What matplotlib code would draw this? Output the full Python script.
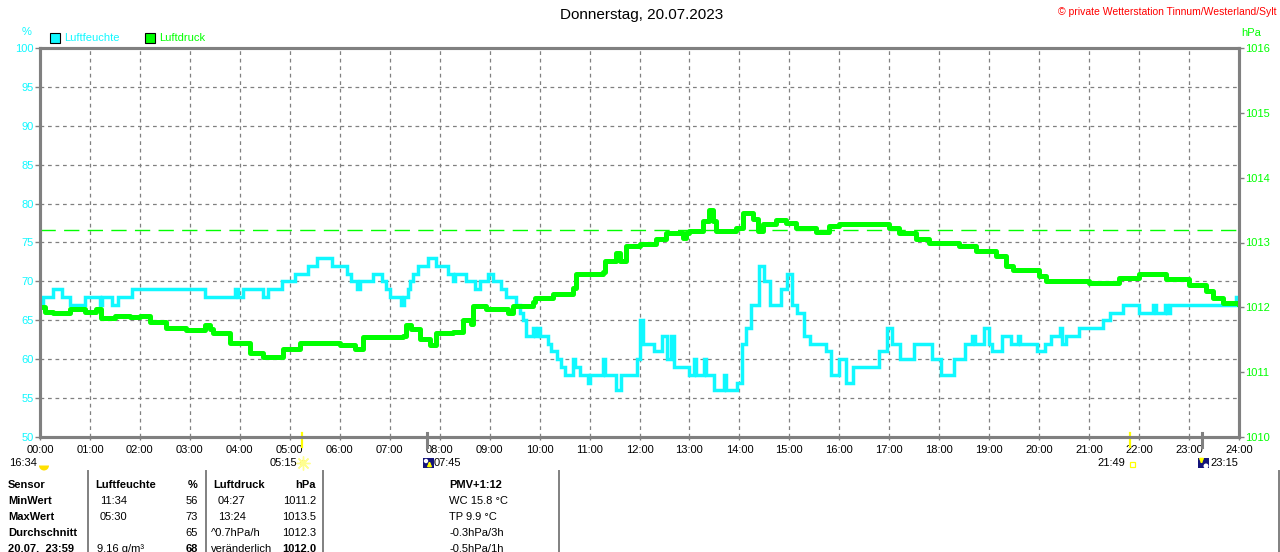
import matplotlib
matplotlib.use('Agg')
import matplotlib.pyplot as plt
import matplotlib.transforms as mtransforms
from matplotlib.patches import Rectangle, Wedge, Circle

plt.rcParams['font.family'] = ['Liberation Sans', 'DejaVu Sans']

W, H = 1280, 552
CYAN = '#10F8FF'
GREEN = '#00FF00'
GRAY = '#808080'

# Luftfeuchte (%), Stufenwerte ueber den Tag (Stunden)
hum_t = [0.00, 0.06, 0.26, 0.44, 0.60, 0.90, 1.20, 1.24, 1.44, 1.56, 1.84, 3.30, 3.90, 3.96,
         4.06, 4.46, 4.56, 4.84, 5.10, 5.36, 5.54, 5.84, 6.14, 6.22, 6.34, 6.40, 6.66, 6.84,
         6.93, 7.00, 7.22, 7.28, 7.36, 7.40, 7.46, 7.57, 7.77, 7.93, 8.17, 8.26, 8.30, 8.52,
         8.70, 8.80, 8.96, 9.06, 9.22, 9.32, 9.52, 9.60, 9.66, 9.72, 9.86, 9.90, 9.96, 10.00,
         10.17, 10.22, 10.34, 10.42, 10.50, 10.66, 10.70, 10.80, 10.96, 11.00, 11.26, 11.30,
         11.52, 11.62, 11.94, 12.02, 12.08, 12.30, 12.45, 12.55, 12.64, 12.70, 13.00, 13.10,
         13.14, 13.30, 13.34, 13.50, 13.70, 13.74, 13.96, 14.06, 14.14, 14.24, 14.40, 14.50,
         14.62, 14.84, 14.96, 15.06, 15.16, 15.30, 15.42, 15.74, 15.84, 16.00, 16.14, 16.28,
         16.80, 16.96, 17.06, 17.22, 17.50, 17.86, 18.04, 18.30, 18.52, 18.66, 18.72, 18.90,
         19.00, 19.06, 19.26, 19.44, 19.58, 19.62, 19.96, 20.12, 20.24, 20.42, 20.46, 20.54,
         20.80, 21.28, 21.42, 21.68, 22.00, 22.28, 22.34, 22.52, 22.56, 22.62, 23.94, 24.00]
hum_v = [67, 68, 69, 68, 67, 68, 67, 68, 67, 68, 69, 68, 69, 68,
         69, 68, 69, 70, 71, 72, 73, 72, 71, 70, 69, 70, 71, 70,
         69, 68, 67, 68, 69, 70, 71, 72, 73, 72, 71, 70, 71, 70,
         69, 70, 71, 70, 69, 68, 67, 66, 65, 63, 64, 63, 64, 63,
         62, 61, 60, 59, 58, 60, 59, 58, 57, 58, 60, 58,
         56, 58, 60, 65, 62, 61, 63, 60, 63, 59, 58, 60,
         58, 60, 58, 56, 58, 56, 57, 62, 64, 67, 72, 70,
         67, 69, 71, 67, 66, 63, 62, 61, 58, 60, 57, 59,
         61, 64, 62, 60, 62, 60, 58, 60, 62, 63, 62, 64,
         62, 61, 63, 62, 63, 62, 61, 62, 63, 64, 62, 63,
         64, 65, 66, 67, 66, 67, 66, 67, 66, 67, 68, 68]

# Luftdruck (hPa)
prs_t = [0.00, 0.10, 0.27, 0.60, 0.90, 1.13, 1.22, 1.50, 1.80, 2.00, 2.20, 2.53, 2.93, 3.30,
         3.40, 3.47, 3.80, 4.20, 4.47, 4.87, 5.20, 5.60, 6.00, 6.30, 6.47, 7.27, 7.33, 7.43,
         7.60, 7.80, 7.93, 8.27, 8.47, 8.63, 8.67, 8.93, 9.37, 9.47, 9.87, 9.90, 10.27, 10.67,
         10.73, 11.27, 11.30, 11.53, 11.60, 11.73, 12.00, 12.33, 12.53, 12.87, 12.93, 13.00,
         13.27, 13.40, 13.47, 13.53, 13.93, 14.07, 14.27, 14.37, 14.47, 14.73, 14.93, 15.13,
         15.53, 15.80, 16.00, 17.00, 17.20, 17.53, 17.80, 18.40, 18.73, 19.13, 19.33, 19.47,
         20.00, 20.13, 21.00, 21.60, 22.00, 22.53, 23.00, 23.33, 23.47, 23.67, 24.00]
prs_v = [1012.00, 1011.93, 1011.92, 1011.97, 1011.93, 1011.97, 1011.84, 1011.86, 1011.85,
         1011.87, 1011.78, 1011.68, 1011.65, 1011.72, 1011.66, 1011.60, 1011.45, 1011.30,
         1011.24, 1011.36, 1011.45, 1011.45, 1011.42, 1011.36, 1011.55, 1011.56, 1011.72,
         1011.66, 1011.51, 1011.42, 1011.60, 1011.62, 1011.80, 1011.74, 1012.02, 1011.97,
         1011.92, 1012.02, 1012.08, 1012.15, 1012.20, 1012.30, 1012.52, 1012.55, 1012.71,
         1012.84, 1012.72, 1012.94, 1012.97, 1013.05, 1013.15, 1013.07, 1013.15, 1013.17,
         1013.33, 1013.50, 1013.33, 1013.18, 1013.22, 1013.46, 1013.36, 1013.18, 1013.28,
         1013.35, 1013.30, 1013.22, 1013.16, 1013.26, 1013.28, 1013.22, 1013.15, 1013.06,
         1012.99, 1012.94, 1012.87, 1012.79, 1012.64, 1012.58, 1012.48, 1012.40, 1012.38,
         1012.46, 1012.51, 1012.43, 1012.35, 1012.25, 1012.15, 1012.07, 1012.05]
prs_ref = 1013.2

hour_labels = ['%02d:00' % h for h in range(25)]

# Sonne / Mond Zeiten
sun_rise, sun_set = 5.25, 21 + 49 / 60
moon_rise, moon_set = 7.75, 23.25

table_rows = [
    ['Sensor', 'Luftfeuchte', '%', 'Luftdruck', 'hPa'],
    ['MinWert', '11:34', '56', '04:27', '1011.2'],
    ['MaxWert', '05:30', '73', '13:24', '1013.5'],
    ['Durchschnitt', '', '65', '^0.7hPa/h', '1012.3'],
    ['20.07.  23:59', '9.16 g/m³', '68', 'veränderlich', '1012.0'],
]
extra_lines = ['PMV+1:12', 'WC 15.8 °C', 'TP 9.9 °C', '-0.3hPa/3h', '-0.5hPa/1h']

fig = plt.figure(figsize=(W / 100, H / 100), dpi=100)
ax = fig.add_axes([40 / W, 1 - 437 / H, 1199 / W, 389 / H])
ax.set_xlim(0, 24)
ax.set_ylim(50, 100)
ax.set_xticks(range(25))
ax.set_xticklabels(hour_labels)
ax.set_yticks(range(50, 101, 5))
ax.set_axisbelow(True)
ax.grid(True, color=GRAY, linestyle=(0, (3, 3)), linewidth=0.9)
ax.tick_params(axis='y', colors=GRAY, labelcolor=CYAN, length=3.6, width=1, labelsize=8, pad=1)
ax.tick_params(axis='x', colors=GRAY, labelcolor='black', length=2.5, width=1, labelsize=8, pad=3.5)

ax2 = ax.twinx()
ax2.set_ylim(1010, 1016)
ax2.set_yticks(range(1010, 1017))
ax2.tick_params(axis='y', colors=GRAY, labelcolor=GREEN, length=3.6, width=1, labelsize=8, pad=1)
for a in (ax, ax2):
    for s in a.spines.values():
        s.set_color(GRAY)
        s.set_linewidth(2.2)

ax2.axhline(prs_ref, color=GREEN, lw=1.0, dashes=(11, 6))
ax.plot(hum_t, hum_v, color=CYAN, lw=2.5, drawstyle='steps-post', solid_joinstyle='miter')
ax2.plot(prs_t, prs_v, color=GREEN, lw=3.6, drawstyle='steps-post')

# Markierungen Sonne / Mond an der Zeitachse
trans = mtransforms.blended_transform_factory(ax.transData, ax.transAxes)
for t in (sun_rise, sun_set):
    ax.plot([t, t], [0.011, -0.026], color='#FFFF00', lw=1.6, transform=trans, clip_on=False)
for t in (moon_rise, moon_set):
    ax.plot([t, t], [0.011, -0.026], color=GRAY, lw=2.2, transform=trans, clip_on=False)

# Overlay in Pixelkoordinaten fuer Texte und Symbole
ov = fig.add_axes([0, 0, 1, 1], zorder=-1)
ov.set_xlim(0, W)
ov.set_ylim(H, 0)
ov.axis('off')

ov.text(642, 15, 'Donnerstag, 20.07.2023', fontsize=11, ha='center', va='center')
ov.text(1277, 12, '© private Wetterstation Tinnum/Westerland/Sylt', fontsize=7.5,
        color='#FF0000', ha='right', va='center')
ov.text(27, 32, '%', fontsize=8, color=CYAN, ha='center', va='center')
ov.text(1241, 33, 'hPa', fontsize=8, color=GREEN, ha='left', va='center')

ov.add_patch(Rectangle((50, 33), 10, 10, facecolor=CYAN, edgecolor='black', lw=0.8))
ov.text(64, 38, 'Luftfeuchte', fontsize=8, color=CYAN, va='center')
ov.add_patch(Rectangle((145, 33), 10, 10, facecolor=GREEN, edgecolor='black', lw=0.8))
ov.text(159, 38, 'Luftdruck', fontsize=8, color=GREEN, va='center')

# Zeile mit Sonnen- und Mondzeiten
ov.text(37, 463, '16:34', fontsize=8, ha='right', va='center')
ov.add_patch(Wedge((44, 465.5), 5, 0, 180, facecolor='#FFE000', edgecolor='none'))
ov.text(297, 463, '05:15', fontsize=8, ha='right', va='center')
ov.plot(303, 463, marker=(8, 2, 0), ms=10, color='#FFFF90', mew=1)
ov.add_patch(Circle((303, 463), 3.2, facecolor='#FFF060', edgecolor='none'))
ov.add_patch(Rectangle((423, 458), 11, 10, facecolor='#14147A', edgecolor='none'))
ov.add_patch(Circle((426, 461), 2.2, facecolor='white', edgecolor='none'))
ov.annotate('', xy=(429.5, 458.5), xytext=(429.5, 467.5),
            arrowprops=dict(arrowstyle='-|>', color='#FFFF00', lw=1.2, mutation_scale=6))
ov.text(434, 463, '07:45', fontsize=8, ha='left', va='center')
ov.text(1125, 463, '21:49', fontsize=8, ha='right', va='center')
ov.add_patch(Rectangle((1129.5, 461.5), 5, 5, facecolor='none', edgecolor='#FFFF00', lw=0.9))
ov.add_patch(Rectangle((1198, 458), 11, 10, facecolor='#14147A', edgecolor='none'))
ov.add_patch(Circle((1206, 466), 2.5, facecolor='white', edgecolor='none'))
ov.annotate('', xy=(1201.5, 466.5), xytext=(1201.5, 458),
            arrowprops=dict(arrowstyle='-|>', color='#FFFF00', lw=1.2, mutation_scale=6))
ov.text(1210, 463, '23:15', fontsize=8, ha='left', va='center')

# Tabelle unten
row_y = [485, 501, 517, 533, 549]
for x in (88, 205.5, 323, 559, 1279):
    ov.plot([x, x], [471, 552], color=GRAY, lw=1.4)
for i, row in enumerate(table_rows):
    y = row_y[i]
    head = i == 0
    ov.text(8, y, row[0], fontsize=8, fontweight='bold', va='center')
    x1 = 95 if head else (97 if i == 4 else 100)
    ov.text(x1, y, row[1], fontsize=8, fontweight='bold' if head else 'normal', va='center')
    ov.text(198, y, row[2], fontsize=8, fontweight='bold' if head or i == 4 else 'normal',
            va='center', ha='right')
    x3 = 213 if head else (218 if i in (1, 2) else 211)
    ov.text(x3, y, row[3], fontsize=8, fontweight='bold' if head else 'normal', va='center')
    ov.text(316, y, row[4], fontsize=8, fontweight='bold' if head or i == 4 else 'normal',
            va='center', ha='right')
for i, s in enumerate(extra_lines):
    ov.text(449, row_y[i], s, fontsize=8, fontweight='bold' if i == 0 else 'normal', va='center')

fig.savefig('out.png', dpi=100)
